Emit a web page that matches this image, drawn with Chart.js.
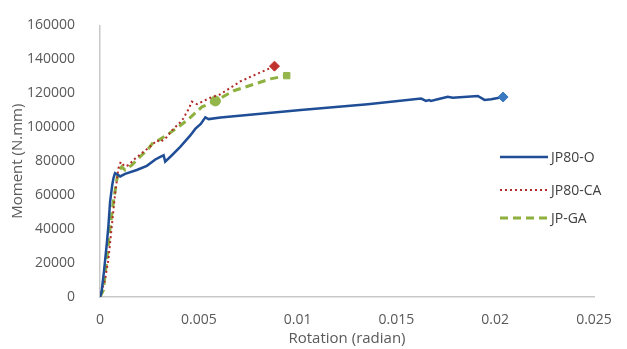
<!DOCTYPE html>
<html>
<head>
<meta charset="utf-8">
<script src="https://cdn.jsdelivr.net/npm/chart.js@4.4.1/dist/chart.umd.min.js"></script>
<style>
  html, body { margin: 0; padding: 0; background: #ffffff; }
  #wrap { width: 627px; height: 349px; position: relative; }
</style>
</head>
<body>
<div id="wrap"><canvas id="chart"></canvas></div>
<script>
// Moment–rotation curves of three joint specimens
const seriesNames = ['JP80-O', 'JP80-CA', 'JP-GA'];

const rotationO = [0, 0.00008, 0.0002, 0.00034, 0.00042, 0.00051, 0.00062, 0.00068, 0.00076, 0.0009,
  0.00102, 0.00127, 0.00186, 0.00237, 0.0028, 0.00305, 0.00322, 0.0033, 0.00364, 0.00406,
  0.00457, 0.00482, 0.0051, 0.00533, 0.0055, 0.0061, 0.01016, 0.01355, 0.01625, 0.0165,
  0.01665, 0.01675, 0.01709, 0.0176, 0.01785, 0.01912, 0.01946, 0.0198, 0.0204];
const momentO = [0, 3000, 15000, 31000, 41000, 56000, 66000, 70000, 73000, 72000,
  71000, 72500, 74800, 77300, 81000, 82600, 83500, 79700, 83500, 88400,
  95200, 99000, 102000, 105800, 104800, 105800, 110100, 113600, 116900, 115500,
  116000, 115500, 116500, 118000, 117400, 118400, 116100, 116500, 117800];

const rotationCA = [0, 0.00025, 0.00042, 0.00059, 0.00076, 0.00093, 0.00105, 0.00125, 0.00144, 0.00178,
  0.0022, 0.00262, 0.00288, 0.00305, 0.00338, 0.00364, 0.00389, 0.00415, 0.00448, 0.00465,
  0.00491, 0.00525, 0.00558, 0.00609, 0.0071, 0.00883];
const momentCA = [0, 10000, 21500, 40900, 60300, 75700, 79600, 77000, 77700, 81600,
  85500, 89400, 92300, 91300, 94200, 98100, 101000, 103900, 110600, 115100,
  113600, 115500, 117400, 119400, 127000, 136000];

const rotationGA = [0, 0.00017, 0.00034, 0.00051, 0.00068, 0.00085, 0.00093, 0.0011, 0.00127, 0.00161,
  0.00203, 0.00245, 0.0027, 0.00296, 0.00347, 0.00406, 0.00448, 0.00516, 0.00584, 0.00677,
  0.00863, 0.00945];
const momentGA = [0, 4000, 21500, 40900, 56400, 69000, 73800, 76700, 74800, 77700,
  82600, 87400, 91300, 92300, 96100, 101000, 104800, 112000, 115500, 121500,
  128500, 130400];

// rotation at which the JP-GA curve carries its intermediate marker
const gaMidMarkRotation = 0.00584;

const xTicks = [0, 0.005, 0.01, 0.015, 0.02, 0.025];
const yTicks = [0, 20000, 40000, 60000, 80000, 100000, 120000, 140000, 160000];

const pts = (xs, ys) => xs.map((x, i) => ({ x: x, y: ys[i] }));

const FONT = "'Open Sans', 'DejaVu Sans', sans-serif";
const TEXT = '#595959';

function endMarker(n, size) {
  return ctx => (ctx.dataIndex === n - 1 ? size : 0);
}

// Legend drawn over the right side of the plot
const sideLegend = {
  id: 'sideLegend',
  afterDraw(chart) {
    const c = chart.ctx;
    const rows = [157, 190, 218];
    c.save();
    chart.data.datasets.forEach((ds, i) => {
      const y = rows[i];
      c.beginPath();
      c.strokeStyle = ds.borderColor;
      c.lineWidth = ds.borderWidth;
      c.setLineDash(ds.borderDash || []);
      c.lineCap = 'butt';
      c.moveTo(500, y);
      c.lineTo(548, y);
      c.stroke();
      c.setLineDash([]);
      c.fillStyle = '#404040';
      c.font = "14px " + FONT;
      c.textBaseline = 'middle';
      c.textAlign = 'left';
      c.fillText(ds.label, 551, y + 1);
    });
    c.restore();
  }
};

new Chart(document.getElementById('chart'), {
  type: 'scatter',
  data: {
    datasets: [
      {
        label: seriesNames[0],
        data: pts(rotationO, momentO),
        showLine: true,
        borderColor: '#1f4e96',
        borderWidth: 2.5,
        pointStyle: 'rectRot',
        pointRadius: endMarker(rotationO.length, 5),
        pointBackgroundColor: '#3a78c0',
        pointBorderColor: '#3a78c0',
        pointBorderWidth: 1
      },
      {
        label: seriesNames[1],
        data: pts(rotationCA, momentCA),
        showLine: true,
        borderColor: '#b22a2a',
        borderWidth: 2,
        borderDash: [2, 3],
        pointStyle: 'rectRot',
        pointRadius: endMarker(rotationCA.length, 5),
        pointBackgroundColor: '#c0322e',
        pointBorderColor: '#c0322e',
        pointBorderWidth: 1
      },
      {
        label: seriesNames[2],
        data: pts(rotationGA, momentGA),
        showLine: true,
        borderColor: '#8db03e',
        borderWidth: 3,
        borderDash: [8, 5],
        pointStyle: ctx => (ctx.raw && ctx.raw.x === gaMidMarkRotation ? 'circle' : 'rect'),
        pointRadius: ctx => {
          if (ctx.dataIndex === rotationGA.length - 1) return 4.5;
          if (rotationGA[ctx.dataIndex] === gaMidMarkRotation) return 5;
          return 0;
        },
        pointBackgroundColor: '#93b54a',
        pointBorderColor: '#93b54a',
        pointBorderWidth: 1
      }
    ]
  },
  options: {
    responsive: true,
    maintainAspectRatio: false,
    animation: false,
    events: [],
    layout: { padding: { left: 0, top: 21, right: 33, bottom: 0 } },
    plugins: {
      legend: { display: false },
      tooltip: { enabled: false }
    },
    elements: { line: { tension: 0 } },
    scales: {
      x: {
        type: 'linear',
        min: 0,
        max: 0.025,
        afterBuildTicks: s => { s.ticks = xTicks.map(v => ({ value: v })); },
        afterFit: s => { s.height = 52; },
        grid: { display: false },
        border: { display: true, color: '#c8c8c8', width: 1.5 },
        ticks: {
          padding: 7,
          color: TEXT,
          font: { family: FONT, size: 14 },
          maxRotation: 0,
          callback: v => String(parseFloat(Number(v).toFixed(3)))
        },
        title: {
          display: true,
          text: 'Rotation (radian)',
          color: TEXT,
          font: { family: FONT, size: 15 },
          padding: { top: 0, bottom: 1 }
        }
      },
      y: {
        type: 'linear',
        min: 0,
        max: 160000,
        afterBuildTicks: s => { s.ticks = yTicks.map(v => ({ value: v })); },
        afterFit: s => { s.width = 100; },
        grid: { display: false },
        border: { display: true, color: '#c8c8c8', width: 1.5 },
        ticks: {
          padding: 17,
          color: TEXT,
          font: { family: FONT, size: 14 },
          callback: v => String(v)
        },
        title: {
          display: true,
          text: 'Moment (N.mm)',
          color: TEXT,
          font: { family: FONT, size: 15 },
          padding: { top: 9, bottom: 0 }
        }
      }
    }
  },
  plugins: [sideLegend]
});
</script>
</body>
</html>
